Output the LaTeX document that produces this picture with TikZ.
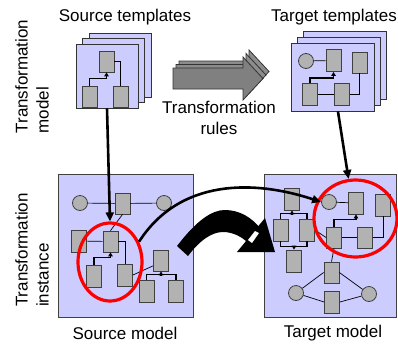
\documentclass[tikz,border=0pt]{standalone}
\usepackage{fontspec}
\setmainfont{Liberation Sans}
\usetikzlibrary{arrows.meta,shapes.geometric,calc}
\definecolor{sheetblue}{RGB}{204,204,255}
\definecolor{elemgray}{RGB}{178,178,178}
\definecolor{edgegray}{RGB}{64,64,64}
\tikzset{
  sheet/.style={draw=black!80, fill=sheetblue, line width=0.8pt, inner sep=0pt},
  modelbox/.style={draw=edgegray, fill=sheetblue, line width=0.8pt, inner sep=0pt,
                   minimum height=143pt},
  elem/.style={draw=edgegray, fill=elemgray, line width=0.8pt, inner sep=0pt,
               minimum width=15pt, minimum height=21pt},
  place/.style={circle, draw=edgegray, fill=elemgray, line width=0.8pt,
                inner sep=0pt, minimum size=15pt},
  wire/.style={line width=0.7pt},
  tree/.style={line width=1.6pt},
  treearr/.style={tree, -{Triangle[length=4pt,width=4.5pt]}},
  focus/.style={ellipse, draw=red, line width=3.2pt, inner sep=0pt},
  flow/.style={line width=2.6pt, -{Triangle[length=9pt,width=8pt]}},
  blockarr/.style={draw=black!80, line width=0.8pt},
  lbl/.style={font=\fontsize{17}{21}\selectfont, align=center, inner sep=0pt},
}

\begin{document}
\begin{tikzpicture}[x=1pt, y=-1pt]
\useasboundingbox (0,0) rectangle (398,343);

% template sheets
\foreach \k/\nm in {2/back,1/mid,0/front} {
  \node[sheet, minimum width=62pt, minimum height=64pt]
    (st_\nm) at (107+6.5*\k, 76-5.5*\k) {};
  \node[sheet, minimum width=83pt, minimum height=68pt]
    (tt_\nm) at (332.5+6*\k, 77-6*\k) {};
}

% source template
\node[elem] (st_top) at (106.5,61.5) {};
\node[elem] (st_bl) at (89.5,96.5) {};
\node[elem] (st_br) at (120.5,96.5) {};
\draw[wire] (st_top.east) -| (st_br.north);
\draw[treearr] (st_bl.north) -- ++(0,-7) -| (st_top.south);

% target template
\node[place] (tt_circ) at (306,61) {};
\node[elem, minimum height=22pt] (tt_a) at (333.5,60.5) {};
\node[elem] (tt_b) at (359.5,62.5) {};
\node[elem, minimum height=22pt] (tt_c) at (310,94.5) {};
\node[elem, minimum height=22pt] (tt_d) at (342,94.5) {};
\draw[wire] (tt_circ) -- (tt_a);
\draw[wire] (tt_c) -- (tt_d);
\draw[wire] (tt_d.east) -| (tt_b.south);
\draw[treearr] (tt_c.north) -- ++(0,-5) -| (tt_a.south);

% transformation rules
\foreach \k/\shade in {2/45,1/45,0/50} {
  \draw[blockarr, fill=black!\shade, shift={(3*\k,-3.5*\k)}]
    (173,68) -- (243,68) -- (243,57) -- (263,78.5) -- (243,100)
    -- (243,89) -- (173,89) -- cycle;
}

% models
\node[modelbox, minimum width=135pt] (sm_box) at (125.5,245.5) {};
\node[modelbox, minimum width=132pt] (tm_box) at (330,245.5) {};

% source model
\node[place] (sm_cl) at (80,203) {};
\node[elem] (sm_top) at (122.5,203.5) {};
\node[place] (sm_cr) at (164,203) {};
\node[elem, minimum height=22pt] (sm_l) at (79,241) {};
\node[elem] (sm_m) at (110.5,241.5) {};
\node[elem, minimum height=22pt] (sm_bl) at (94,276) {};
\node[elem, minimum height=22pt] (sm_br) at (125,275) {};
\node[elem] (sm_r) at (161,260.5) {};
\node[elem, minimum height=22pt] (sm_rbl) at (146.5,291) {};
\node[elem, minimum height=22pt] (sm_rbr) at (176,291) {};
\draw[wire] (sm_cl) -- (sm_top) -- (sm_cr);
\draw[wire] (sm_l) -- (sm_m);
\draw[wire] (sm_top.south) -- (sm_m.north);
\draw[wire] (sm_m.east) -| (sm_br.north);
\draw[wire] (sm_br.east) -- (sm_r.214);
\draw[treearr] (sm_bl.north) -- ++(0,-7) -| (sm_m.south);
\draw[tree] (sm_rbl.north) -- ++(0,-5) -| (sm_rbr.north);
\draw[treearr] (sm_r.south) ++(0,4) -- (sm_r.south);

% target model
\node[elem, minimum height=22pt] (tm_t1) at (292,199) {};
\node[elem, minimum height=22pt] (tm_t2) at (280.5,230) {};
\node[elem, minimum height=22pt] (tm_t3) at (307,230) {};
\node[elem, minimum height=22pt] (tm_t4) at (294,261) {};
\draw[tree] (tm_t2.north) -- ++(0,-5) -| (tm_t3.north);
\draw[tree] (tm_t2.south) -- ++(0,5) -| (tm_t3.south);
\draw[treearr] (tm_t1.south) ++(0,4) -- (tm_t1.south);
\draw[treearr] (tm_t4.north) ++(0,-4) -- (tm_t4.north);
\node[place] (tm_circ) at (329,202) {};
\node[elem, minimum height=22pt] (tm_a) at (356,203) {};
\node[elem, minimum height=22pt] (tm_b) at (383,205) {};
\node[elem] (tm_c) at (334,237.5) {};
\node[elem] (tm_d) at (365,237.5) {};
\node[elem] (tm_e) at (331.5,272.5) {};
\node[place] (tm_cl) at (296,293) {};
\node[place] (tm_cr) at (369,294) {};
\node[elem, minimum height=22pt] (tm_f) at (332,302) {};
\draw[wire] (tm_circ) -- (tm_a);
\draw[wire] (tm_c) -- (tm_d);
\draw[wire] (tm_d.east) -| (tm_b.south);
\draw[treearr] (tm_c.north) -- ++(0,-7) -| (tm_a.south);
\draw[wire] (tm_t3.east) -- (tm_c.west);
\draw[wire] (tm_c.south) -- (tm_e.north);
\draw[wire] (tm_e.west) -- (tm_cl);
\draw[wire] (tm_e.east) -- (tm_cr);
\draw[wire] (tm_cl) -- (tm_f.west);
\draw[wire] (tm_f.east) -- (tm_cr);

% matched parts
\node[focus, minimum width=64pt, minimum height=78pt] (sm_focus) at (110,262) {};
\node[focus, minimum width=83pt, minimum height=77pt] (tm_focus) at (355.5,218.5) {};

% arrows
\draw[flow] (st_front.south) -- (sm_focus.north);
\draw[flow] (tt_front.279) -- (tm_focus.100);
\draw[flow] (sm_focus.35) .. controls (180,178) and (255,180) .. (tm_circ.west);

% instance arrow
\fill (177,246) .. controls (197,220) and (212,210) .. (225,210)
  .. controls (240,210) and (252,218) .. (260,228) -- (250,245)
  .. controls (243,237) and (233,232) .. (223,232)
  .. controls (212,232) and (200,240) .. (188,256) -- cycle;
\fill (237,252) -- (265,218) -- (275,252) -- cycle;
\fill[white] (248,240) -- (252,243) -- (259,233) -- (255,231) -- cycle;

% labels
\node[lbl] (lbl_src) at (125,17) {Source templates};
\node[lbl] (lbl_tgt) at (334,17) {Target templates};
\node[lbl] (lbl_rules) at (219,117.5) {Transformation\\rules};
\node[lbl, rotate=90, align=left] (lbl_tmodel) at (32,76.5) {Transformation\\model};
\node[lbl, rotate=90, align=left] (lbl_tinst) at (32,250) {Transformation\\instance};
\node[lbl] (lbl_smodel) at (125,333) {Source model};
\node[lbl] (lbl_tmodel2) at (333,333) {Target model};

\end{tikzpicture}
\end{document}
